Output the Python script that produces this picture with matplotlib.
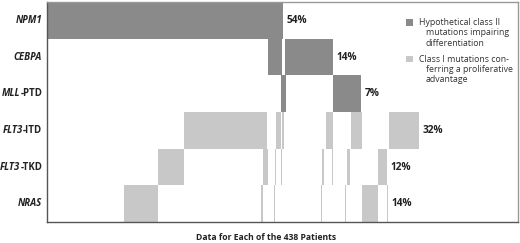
import matplotlib
matplotlib.use("Agg")
import matplotlib.pyplot as plt
from matplotlib.patches import Rectangle

plt.rcParams["font.family"] = ["Open Sans", "DejaVu Sans"]

N_PATIENTS = 438

# rows from top to bottom
gene_names = ["NPM1", "CEBPA", "MLL", "FLT3", "FLT3", "NRAS"]
gene_suffix = ["", "", "-PTD", "-ITD", "-TKD", ""]
gene_class = ["II", "II", "II", "I", "I", "I"]
percent = [54, 14, 7, 32, 12, 14]

# (first patient, number of patients) for each mutated run
npm1 = [(0, 236)]
cebpa = [(221, 14), (238, 48)]
mll_ptd = [(234, 4.5), (286, 28)]
flt3_itd = [(137, 83), (229, 5), (235, 1.5), (279, 7), (304, 11), (342, 30)]
flt3_tkd = [(111, 26), (216, 4.5), (227.5, 1.2), (234, 1.2), (275, 2),
            (284.5, 1.2), (300, 3.3), (331, 9)]
nras = [(77, 34), (214, 1.5), (226.5, 1.2), (273.5, 1.5), (297.5, 1.5),
        (314.5, 16.5), (339.5, 1.2)]
segments = [npm1, cebpa, mll_ptd, flt3_itd, flt3_tkd, nras]

DARK = "#8a8a8a"
LIGHT = "#c8c8c8"
TEXT = "#222222"

fig = plt.figure(figsize=(5.2, 2.43), dpi=100)
ax = fig.add_axes([47 / 520, 21 / 243, 471 / 520, 220 / 243])
ax.set_xlim(0, 471)
ax.set_ylim(0, 6)

n_rows = len(gene_names)
for i, runs in enumerate(segments):
    y0 = n_rows - 1 - i
    color = DARK if gene_class[i] == "II" else LIGHT
    ax.broken_barh(runs, (y0, 1), facecolors=color, edgecolor="none")

    end = max(s + w for s, w in runs)
    ax.text(end + 3.5, y0 + 0.5, f"{percent[i]}%", ha="left", va="center",
            fontsize=7.3, fontweight="bold", color=TEXT)

    # gene label: italic gene symbol, upright suffix
    if gene_suffix[i]:
        t = ax.annotate(gene_suffix[i], xy=(0, y0 + 0.5),
                        xycoords=("axes fraction", "data"),
                        xytext=(-3.5, 0), textcoords="offset points",
                        ha="right", va="center", fontsize=6.9,
                        fontweight="bold", color=TEXT)
        ax.annotate(gene_names[i], xy=(0, 0), xycoords=t, ha="right",
                    va="bottom", fontsize=6.9, fontweight="bold",
                    fontstyle="italic", color=TEXT)
    else:
        ax.annotate(gene_names[i], xy=(0, y0 + 0.5),
                    xycoords=("axes fraction", "data"),
                    xytext=(-3.5, 0), textcoords="offset points",
                    ha="right", va="center", fontsize=6.9,
                    fontweight="bold", fontstyle="italic", color=TEXT)

ax.set_xticks([])
ax.set_yticks([])
for side in ["left", "bottom"]:
    ax.spines[side].set_color("#555555")
for side in ["top", "right"]:
    ax.spines[side].set_color("#999999")
for sp in ax.spines.values():
    sp.set_linewidth(1.0)

ax.text(N_PATIENTS / 2, -0.42, f"Data for Each of the {N_PATIENTS} Patients",
        ha="center", va="center", fontsize=6.2, fontweight="bold", color=TEXT)

# legend
legend_items = [
    (DARK, ["Hypothetical class II", "mutations impairing", "differentiation"]),
    (LIGHT, ["Class I mutations con-", "ferring a proliferative", "advantage"]),
]
line_step = 0.28
for k, (color, lines) in enumerate(legend_items):
    top = 5.44 - k * 1.0
    ax.add_patch(Rectangle((359, top - 0.09), 6.7, 0.18, facecolor=color,
                           edgecolor="none"))
    for j, line in enumerate(lines):
        ax.text(372 if j == 0 else 379, top - j * line_step, line,
                ha="left", va="center", fontsize=6.3, color="#333333")

fig.savefig("out.png", dpi=100)
